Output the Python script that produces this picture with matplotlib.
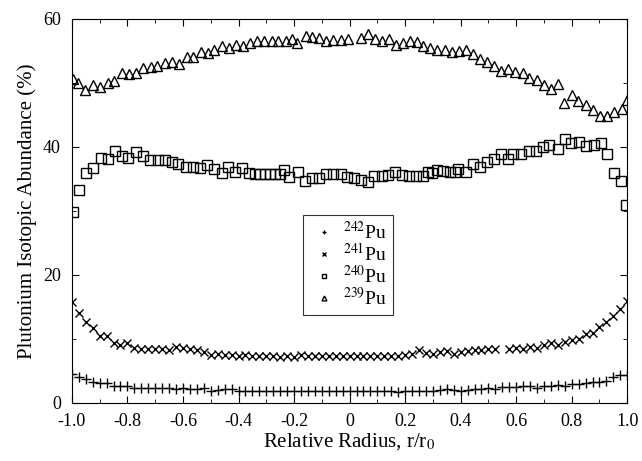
import numpy as np
import matplotlib
matplotlib.use("Agg")
import matplotlib.pyplot as plt
from matplotlib.ticker import MultipleLocator, FuncFormatter

plt.rcParams["font.family"] = "Liberation Serif"
plt.rcParams["mathtext.fontset"] = "stix"

# Pu-239 (triangles)
x239 = [-0.997, -0.977, -0.953, -0.925, -0.899, -0.871, -0.848, -0.821, -0.795, -0.769,
        -0.743, -0.716, -0.693, -0.665, -0.639, -0.614, -0.587, -0.563, -0.536, -0.511,
        -0.487, -0.461, -0.434, -0.410, -0.385, -0.359, -0.332, -0.307, -0.280, -0.257,
        -0.230, -0.206, -0.188, -0.158, -0.134, -0.109, -0.085, -0.058, -0.032, -0.004,
        0.040, 0.066, 0.092, 0.118, 0.143, 0.168, 0.194, 0.218, 0.242, 0.266,
        0.290, 0.316, 0.342, 0.368, 0.395, 0.420, 0.446, 0.470, 0.494, 0.521,
        0.546, 0.572, 0.596, 0.623, 0.647, 0.675, 0.701, 0.725, 0.750, 0.774,
        0.801, 0.824, 0.851, 0.876, 0.903, 0.927, 0.953, 0.981, 0.998]
y239 = [50.6, 50.0, 48.9, 49.7, 49.3, 50.0, 50.3, 51.6, 51.4, 51.5,
        52.3, 52.5, 52.7, 53.1, 53.3, 53.0, 54.0, 54.0, 54.9, 54.7,
        55.2, 55.7, 55.4, 55.9, 55.7, 56.3, 56.5, 56.6, 56.6, 56.6,
        56.6, 56.8, 56.2, 57.4, 57.2, 57.0, 56.6, 56.7, 56.7, 56.8,
        57.0, 57.6, 56.8, 56.5, 56.8, 56.0, 56.2, 56.5, 56.4, 55.8,
        55.4, 55.2, 55.2, 54.9, 55.0, 55.2, 54.5, 53.7, 53.2, 52.7,
        51.9, 52.2, 51.7, 51.5, 50.8, 50.4, 49.7, 49.0, 49.8, 46.8,
        48.1, 47.2, 46.5, 45.8, 44.9, 44.9, 45.5, 46.0, 47.3]

# Pu-240 (squares)
x240 = [-0.995, -0.975, -0.951, -0.923, -0.897, -0.869, -0.845, -0.821, -0.799, -0.769,
        -0.745, -0.719, -0.691, -0.665, -0.641, -0.617, -0.589, -0.563, -0.539, -0.515,
        -0.488, -0.461, -0.437, -0.413, -0.388, -0.362, -0.341, -0.323, -0.305, -0.287,
        -0.268, -0.250, -0.236, -0.218, -0.184, -0.160, -0.134, -0.109, -0.085, -0.058,
        -0.032, -0.008, 0.016, 0.040, 0.068, 0.089, 0.116, 0.140, 0.164, 0.190,
        0.214, 0.240, 0.266, 0.284, 0.296, 0.314, 0.338, 0.362, 0.380, 0.392,
        0.420, 0.446, 0.468, 0.494, 0.521, 0.546, 0.572, 0.590, 0.617, 0.647,
        0.672, 0.695, 0.720, 0.750, 0.777, 0.798, 0.825, 0.851, 0.879, 0.906,
        0.927, 0.951, 0.978, 0.996]
y240 = [29.8, 33.2, 36.0, 36.7, 38.3, 38.1, 39.3, 38.6, 38.2, 39.2,
        38.6, 37.9, 38.0, 38.0, 37.6, 37.3, 36.9, 36.9, 36.7, 37.1,
        36.5, 35.9, 36.8, 36.1, 36.7, 36.0, 35.7, 35.7, 35.7, 35.7,
        35.7, 35.7, 36.4, 35.3, 36.1, 34.7, 35.2, 35.1, 35.7, 35.7,
        35.7, 35.3, 35.1, 34.9, 34.5, 35.5, 35.5, 35.6, 36.1, 35.6,
        35.5, 35.5, 35.5, 36.1, 35.9, 36.4, 36.3, 36.1, 36.1, 36.5,
        36.1, 37.3, 36.9, 37.7, 38.1, 38.9, 38.1, 38.9, 38.9, 39.3,
        39.4, 40.0, 40.3, 39.6, 41.2, 40.6, 40.8, 40.2, 40.3, 40.6,
        38.9, 36.0, 34.7, 30.9]

# Pu-241 (x) and Pu-242 (+) share one radial grid
x_low = [-1.0, -0.975, -0.95, -0.925, -0.9, -0.875, -0.85, -0.825, -0.8, -0.775,
         -0.75, -0.725, -0.7, -0.675, -0.65, -0.625, -0.6, -0.575, -0.55, -0.525,
         -0.5, -0.475, -0.45, -0.425, -0.4, -0.375, -0.35, -0.325, -0.3, -0.275,
         -0.25, -0.225, -0.2, -0.175, -0.15, -0.125, -0.1, -0.075, -0.05, -0.025,
         0.0, 0.025, 0.05, 0.075, 0.1, 0.125, 0.15, 0.175, 0.2, 0.225,
         0.25, 0.275, 0.3, 0.325, 0.35, 0.375, 0.4, 0.425, 0.45, 0.475,
         0.5, 0.525, 0.55, 0.575, 0.6, 0.625, 0.65, 0.675, 0.7, 0.725,
         0.75, 0.775, 0.8, 0.825, 0.85, 0.875, 0.9, 0.925, 0.95, 0.975, 1.0]
y241 = [15.8, 14.0, 12.7, 11.7, 10.5, 10.4, 9.3, 9.1, 9.4, 8.6,
        8.5, 8.4, 8.5, 8.4, 8.2, 8.8, 8.6, 8.5, 8.2, 8.0,
        7.5, 7.6, 7.5, 7.5, 7.4, 7.5, 7.4, 7.4, 7.3, 7.3,
        7.1, 7.4, 7.2, 7.5, 7.4, 7.4, 7.4, 7.4, 7.4, 7.4,
        7.3, 7.3, 7.3, 7.3, 7.3, 7.4, 7.4, 7.4, 7.5, 7.6,
        8.2, 7.8, 7.7, 7.9, 8.1, 7.6, 7.9, 8.1, 8.2, 8.3,
        8.4, 8.4, np.nan, 8.5, 8.6, 8.4, 8.8, 8.6, 9.0, 9.3,
        9.1, 9.5, 9.8, 10.0, 10.7, 11.0, 11.8, 12.6, 13.6, 14.6, 16.0]
y242 = [4.5, 4.1, 3.7, 3.2, 3.1, 3.1, 2.7, 2.7, 2.6, 2.4,
        2.3, 2.3, 2.3, 2.3, 2.3, 2.2, 2.4, 2.2, 2.1, 2.3,
        1.9, 2.0, 2.1, 2.1, 1.9, 1.9, 1.9, 1.9, 1.9, 1.9,
        1.9, 1.8, 1.9, 1.9, 1.9, 1.8, 1.8, 1.9, 1.9, 1.8,
        1.9, 1.9, 1.9, 1.9, 1.9, 1.9, 1.9, 1.7, 1.8, 1.9,
        1.9, 1.9, 1.9, 2.0, 2.1, 2.0, 1.8, 2.0, 2.1, 2.2,
        2.3, 2.1, 2.5, 2.5, 2.5, 2.6, 2.6, 2.4, 2.6, 2.7,
        2.8, 2.7, 2.9, 3.0, 3.1, 3.2, 3.3, 3.5, 4.1, 4.3, 4.4]

labels = [r"$^{242}$Pu", r"$^{241}$Pu", r"$^{240}$Pu", r"$^{239}$Pu"]

fig = plt.figure(figsize=(6.42, 4.61), dpi=100)
ax = fig.add_axes([0.112, 0.126, 0.865, 0.833])

ax.plot(x_low, y242, ls="none", marker="+", ms=7, mew=1.0, color="black", label=labels[0])
ax.plot(x_low, y241, ls="none", marker="x", ms=6, mew=1.0, color="black", label=labels[1])
ax.plot(x240, y240, ls="none", marker="s", ms=7, mew=1.0, mfc="none", color="black", label=labels[2])
ax.plot(x239, y239, ls="none", marker="^", ms=7, mew=1.0, mfc="none", color="black", label=labels[3])

ax.set_xlim(-1.0, 1.0)
ax.set_ylim(0, 60)
ax.xaxis.set_major_locator(MultipleLocator(0.2))
ax.xaxis.set_minor_locator(MultipleLocator(0.1))
ax.yaxis.set_major_locator(MultipleLocator(20))
ax.yaxis.set_minor_locator(MultipleLocator(10))
ax.xaxis.set_major_formatter(FuncFormatter(lambda v, p: "0" if abs(v) < 1e-9 else f"{v:.1f}"))
ax.tick_params(which="both", direction="in", top=True, right=True, labelsize=13)
ax.tick_params(which="major", length=5)
ax.tick_params(which="minor", length=3)
ax.tick_params(axis="x", which="major", pad=7)
ax.tick_params(axis="y", which="major", pad=8)

ax.set_xlabel(r"Relative Radius, r/r$_0$", fontsize=15, labelpad=1)
ax.set_ylabel("Plutonium Isotopic Abundance (%)", fontsize=15, labelpad=4)

leg = ax.legend(loc="center", bbox_to_anchor=(0.497, 0.36), fontsize=14, markerscale=0.5,
                frameon=True, fancybox=False, edgecolor="black", handlelength=1.6,
                handletextpad=0.2, labelspacing=0.0, borderpad=0.3)
leg.get_frame().set_linewidth(0.8)

fig.savefig("out.png", dpi=100)
